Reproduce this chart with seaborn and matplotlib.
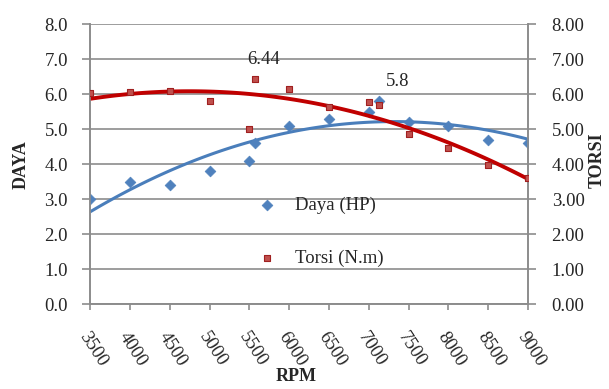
import matplotlib
matplotlib.use("Agg")
import matplotlib.pyplot as plt
import seaborn as sns
import pandas as pd
import numpy as np

rpm = [3500, 4000, 4500, 5000, 5500, 5570, 6000, 6500, 7000, 7130, 7500, 8000, 8500, 9000]
daya = [3.0, 3.5, 3.4, 3.8, 4.1, 4.6, 5.1, 5.3, 5.5, 5.8, 5.2, 5.1, 4.7, 4.6]
torsi = [6.02, 6.06, 6.1, 5.8, 5.0, 6.44, 6.14, 5.63, 5.76, 5.69, 4.87, 4.45, 3.98, 3.6]
xticks = list(range(3500, 9001, 500))
yticks = [0, 1, 2, 3, 4, 5, 6, 7, 8]

df = pd.DataFrame({"RPM": rpm, "Daya": daya, "Torsi": torsi})

sns.set_style("white")
plt.rcParams['font.family'] = ['Liberation Serif', 'DejaVu Serif']

fig = plt.figure(figsize=(6.09, 3.89), dpi=100)
ax = fig.add_axes([0.148, 0.2185, 0.719, 0.7195])
ax2 = ax.twinx()

blue = "#4F81BD"
red = "#C0504D"
blue_line = "#4A7EBB"
red_line = "#C00000"
grid = "#8C8C8C"

for y in yticks:
    ax.axhline(y, color=grid, lw=1.2, zorder=0)

sns.regplot(data=df, x="RPM", y="Daya", order=2, ci=None, scatter=False, truncate=True,
            line_kws=dict(color=blue_line, lw=2.2), ax=ax)
sns.regplot(data=df, x="RPM", y="Torsi", order=2, ci=None, scatter=False, truncate=True,
            line_kws=dict(color=red_line, lw=2.8), ax=ax2)
sns.scatterplot(data=df, x="RPM", y="Daya", marker="D", s=30, color=blue, edgecolor=blue,
                linewidth=0.5, ax=ax, zorder=5, label="Daya (HP)", legend=False)
sns.scatterplot(data=df, x="RPM", y="Torsi", marker="s", s=20, color=red, edgecolor="#A02020",
                linewidth=0.8, ax=ax2, zorder=5, label="Torsi (N.m)", legend=False)

for a in (ax, ax2):
    a.set_xlim(3500, 9000)
    a.set_ylim(0, 8)
    for s in a.spines.values():
        s.set_color(grid)
        s.set_linewidth(1.2)
    a.spines['top'].set_visible(False)

fs = 13.5
ax.set_yticks(yticks)
ax.set_yticklabels([f"{v:.1f}" for v in yticks])
ax2.set_yticks(yticks)
ax2.set_yticklabels([f"{v:.2f}" for v in yticks])
ax.set_xticks(xticks)
ax.set_xticklabels([str(v) for v in xticks], rotation=-57, ha="left", va="top",
                   rotation_mode="anchor")

ax.tick_params(axis='y', direction='out', length=6, width=1.2, color=grid, labelsize=fs, pad=10, left=True)
ax2.tick_params(axis='y', direction='out', length=6, width=1.2, color=grid, labelsize=fs, pad=11, right=True)
ax.tick_params(axis='x', direction='out', length=4, width=1.2, color=grid, labelsize=fs, pad=14, bottom=True)

ax.set_xlabel("RPM", fontsize=13, fontweight="bold", va="center", ha="center")
ax.xaxis.set_label_coords((296 - 90) / 438, -(377 - 304) / 280)
ax.set_ylabel("DAYA", fontsize=13, fontweight="bold", va="center", ha="center")
ax.yaxis.set_label_coords(-(90 - 21) / 438, (304 - 165) / 280)
ax2.set_ylabel("TORSI", fontsize=13, fontweight="bold", rotation=90, va="center", ha="center")
ax2.yaxis.set_label_coords(1 + (597 - 528) / 438, (304 - 160) / 280)

ax2.annotate("6.44", xy=(5570, 6.44), xytext=(6, 14), textcoords="offset points",
             ha="center", va="center", fontsize=fs)
ax.annotate("5.8", xy=(7130, 5.8), xytext=(13, 14), textcoords="offset points",
            ha="center", va="center", fontsize=fs)

h1, l1 = ax.get_legend_handles_labels()
h2, l2 = ax2.get_legend_handles_labels()
ax2.legend(h1 + h2, l1 + l2, loc="upper left", bbox_to_anchor=(0.366, 0.41), frameon=False,
           fontsize=fs, labelspacing=1.9, handletextpad=1.0, handlelength=1.0,
           borderaxespad=0)

fig.savefig("out.png", dpi=100)
